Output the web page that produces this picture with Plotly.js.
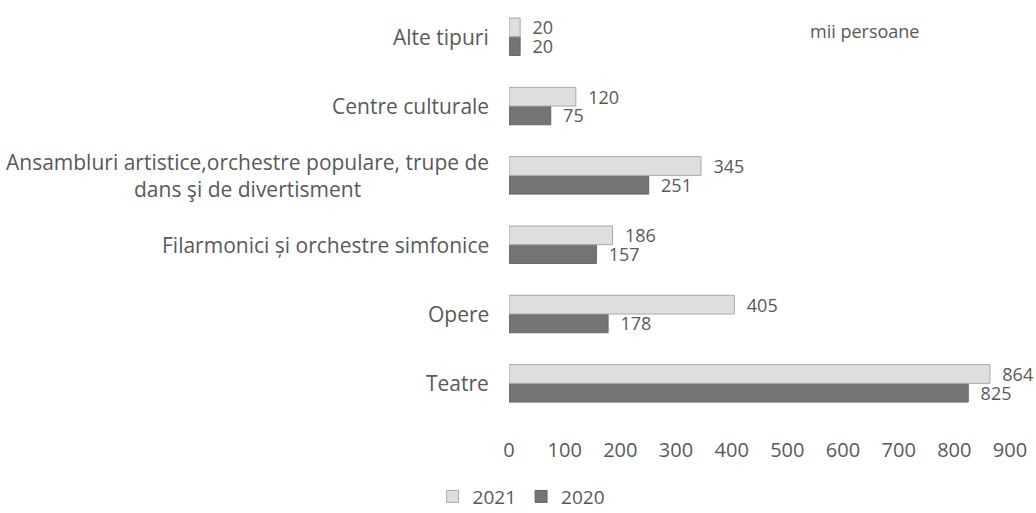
<!DOCTYPE html>
<html>
<head>
<meta charset="utf-8">
<script src="https://cdn.plot.ly/plotly-3.0.1.min.js"></script>
<style>html,body{margin:0;padding:0;background:#fff;}#chart{width:1036px;height:513px;}</style>
</head>
<body>
<div id="chart"></div>
<script>
const categories = [
  "Teatre",
  "Opere",
  "Filarmonici și orchestre simfonice",
  "Ansambluri artistice,orchestre populare, trupe de<br>dans şi de divertisment",
  "Centre culturale",
  "Alte tipuri"
];
const values2021 = [864, 405, 186, 345, 120, 20];
const values2020 = [825, 178, 157, 251, 75, 20];
const seriesNames = ["2021", "2020"];
const xTicks = [0, 100, 200, 300, 400, 500, 600, 700, 800, 900];
const unitLabel = "mii persoane";

const FONT = "Open Sans, sans-serif";
const TXT = "#595959";

const traces = [
  {
    type: "bar", orientation: "h", name: seriesNames[1],
    y: categories, x: values2020,
    marker: {color: "#747474", line: {color: "#666666", width: 1}},
    text: values2020.map(String),
    texttemplate: "\u00a0\u00a0%{text}",
    textposition: "outside", cliponaxis: false, constraintext: "none",
    textfont: {family: FONT, size: 18, color: TXT},
    hoverinfo: "x+y"
  },
  {
    type: "bar", orientation: "h", name: seriesNames[0],
    y: categories, x: values2021,
    marker: {color: "#dedede", line: {color: "#a9a9a9", width: 1}},
    text: values2021.map(String),
    texttemplate: "\u00a0\u00a0%{text}",
    textposition: "outside", cliponaxis: false, constraintext: "none",
    textfont: {family: FONT, size: 18, color: TXT},
    hoverinfo: "x+y"
  }
];

const annotations = categories.map(c => ({
  xref: "paper", yref: "y", x: 0, y: c,
  xanchor: "right", yanchor: "middle", xshift: -18,
  text: c, align: "center", showarrow: false,
  font: {family: FONT, size: 21, color: TXT}
}));
annotations.push({
  xref: "paper", yref: "paper", x: 0.71, y: 0.925,
  xanchor: "center", yanchor: "middle",
  text: unitLabel, showarrow: false,
  font: {family: FONT, size: 18, color: TXT}
});

const layout = {
  width: 1036, height: 513,
  margin: {l: 509, r: 26, t: 0, b: 95},
  paper_bgcolor: "#ffffff", plot_bgcolor: "#ffffff",
  font: {family: FONT, color: TXT},
  barmode: "group", bargap: 0.46, bargroupgap: 0,
  showlegend: true,
  legend: {
    orientation: "h", traceorder: "reversed",
    xref: "container", yref: "container",
    x: 0.503, y: 0.032, xanchor: "center", yanchor: "middle",
    font: {family: FONT, size: 19, color: TXT},
    itemwidth: 30
  },
  xaxis: {
    range: [0, 900], tickvals: xTicks, ticktext: xTicks.map(String),
    showgrid: false, zeroline: false, showline: false,
    ticks: "outside", ticklen: 14, tickcolor: "rgba(0,0,0,0)",
    tickfont: {family: FONT, size: 20, color: TXT}, fixedrange: true
  },
  yaxis: {
    type: "category", categoryorder: "array", categoryarray: categories,
    range: [-0.5, 5.53],
    showticklabels: false, showgrid: false, zeroline: false, showline: false,
    ticks: "", fixedrange: true
  },
  annotations: annotations
};

Plotly.newPlot("chart", traces, layout, {displayModeBar: false, staticPlot: true});
</script>
</body>
</html>
